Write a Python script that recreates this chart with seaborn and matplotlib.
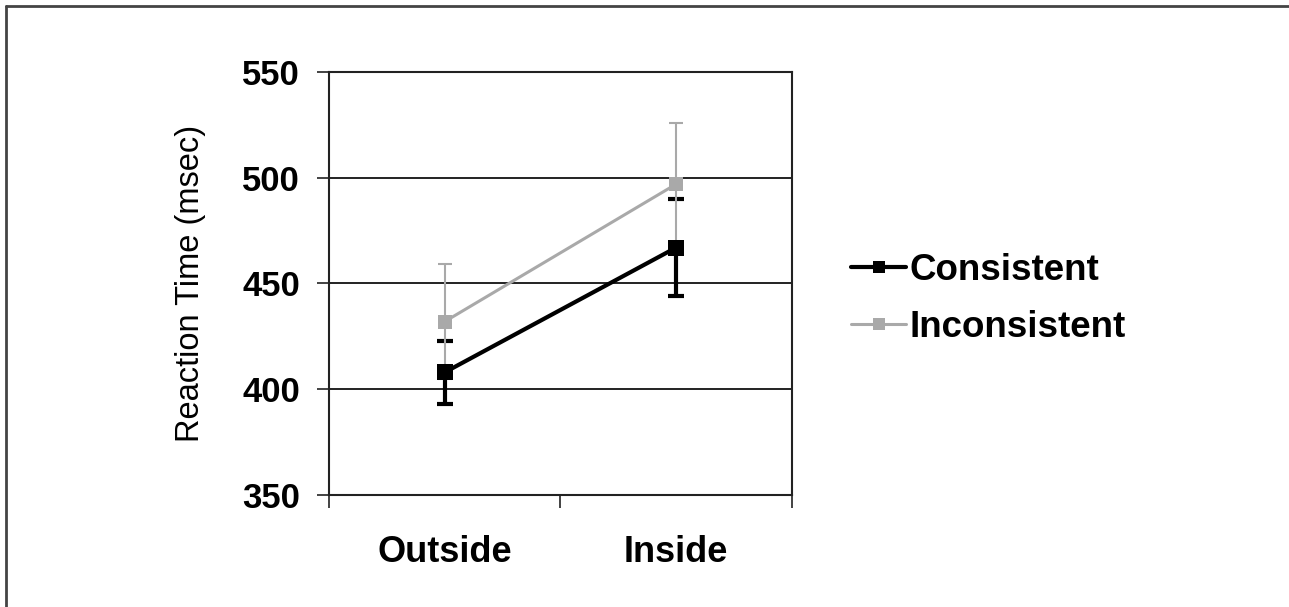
"""
Reaction time by target location and consistency.
"""
import matplotlib
matplotlib.use("Agg")
import matplotlib.pyplot as plt
from matplotlib.lines import Line2D
import seaborn as sns
import pandas as pd

sns.set_theme(style="white")
plt.rcParams["font.family"] = ["Liberation Sans", "DejaVu Sans"]
plt.rcParams["text.color"] = "black"
plt.rcParams["axes.labelcolor"] = "black"
plt.rcParams["xtick.color"] = "black"
plt.rcParams["ytick.color"] = "black"

locations = ["Outside", "Inside"]
conditions = ["Consistent", "Inconsistent"]
consistent_rt = [408, 467]
inconsistent_rt = [432, 497]
consistent_err = [15, 23]
inconsistent_err = [27, 29]
yticks = [350, 400, 450, 500, 550]

COLORS = {"Consistent": "#000000", "Inconsistent": "#A9A9A9"}
STYLE = {
    "Consistent": dict(lw=3.0, ms=11.5, elw=3.0, cap=6, capthick=3.0, z=4),
    "Inconsistent": dict(lw=2.2, ms=9.5, elw=1.5, cap=5, capthick=1.5, z=3),
}

df = pd.DataFrame({
    "location": locations * 2,
    "condition": [conditions[0]] * 2 + [conditions[1]] * 2,
    "rt": consistent_rt + inconsistent_rt,
    "err": consistent_err + inconsistent_err,
})

fig = plt.figure(figsize=(12.89, 6.07), dpi=100)
ax = fig.add_axes([0.2552, 0.1845, 0.3592, 0.6969])

# consistent: thick lower bar, upper bar shows only its cap (hidden under
# the grey bar in the original)
sub = df[df["condition"] == "Consistent"]
st = STYLE["Consistent"]
xpos = [locations.index(l) for l in sub["location"]]
none = [0] * len(sub)
ax.errorbar(xpos, sub["rt"], yerr=[sub["err"], none], fmt="none",
            ecolor=COLORS["Consistent"], elinewidth=st["elw"],
            capsize=st["cap"], capthick=st["capthick"], zorder=2)
ax.errorbar(xpos, sub["rt"], yerr=[none, sub["err"]], fmt="none",
            ecolor=COLORS["Consistent"], elinewidth=0,
            capsize=st["cap"], capthick=st["capthick"], zorder=2)

sub = df[df["condition"] == "Inconsistent"]
st = STYLE["Inconsistent"]
xpos = [locations.index(l) for l in sub["location"]]
ax.errorbar(xpos, sub["rt"], yerr=sub["err"], fmt="none",
            ecolor=COLORS["Inconsistent"], elinewidth=st["elw"],
            capsize=st["cap"], capthick=st["capthick"], zorder=3)

for cond in ["Inconsistent", "Consistent"]:
    sub = df[df["condition"] == cond]
    st = STYLE[cond]
    n_before = len(ax.lines)
    sns.pointplot(data=sub, x="location", y="rt", order=locations,
                  color=COLORS[cond], markers="s", errorbar=None,
                  linewidth=st["lw"], markersize=st["ms"], ax=ax)
    for ln in ax.lines[n_before:]:
        ln.set_zorder(st["z"] + 2)
        ln.set_markeredgewidth(0)

ax.set_xlim(-0.5, 1.5)
ax.set_ylim(350, 550)
ax.set_yticks(yticks)
ax.set_xticks([0, 1])
ax.set_xticklabels(locations)
ax.set_xticks([-0.5, 0.5, 1.5], minor=True)
ax.set_xlabel("")
ax.set_ylabel("Reaction Time (msec)", fontsize=23.5)
ax.yaxis.set_label_coords(-0.266, 0.5)

ax.yaxis.grid(True, color="#111111", linewidth=1.3)
ax.set_axisbelow(True)
for sp in ax.spines.values():
    sp.set_visible(True)
    sp.set_color("#222222")
    sp.set_linewidth(1.5)

ax.tick_params(axis="y", which="major", left=True, direction="out",
               length=9, width=1.2, color="#222222", pad=12, labelsize=25)
ax.tick_params(axis="x", which="major", bottom=True, length=0, pad=29,
               labelsize=26)
ax.tick_params(axis="x", which="minor", bottom=True, direction="out",
               length=9, width=1.2, color="#222222")
for lab in ax.get_xticklabels() + ax.get_yticklabels():
    lab.set_fontweight("bold")

handles = [
    Line2D([], [], color=COLORS[c], lw=STYLE[c]["lw"], marker="s",
           markersize=8, markeredgewidth=0)
    for c in conditions
]
fig.legend(handles, conditions, loc="upper left",
           bbox_to_anchor=(0.6604, 0.584), frameon=False,
           prop={"size": 26.5, "weight": "bold"}, handlelength=1.5,
           handletextpad=0.08, labelspacing=0.6, borderpad=0,
           borderaxespad=0)

# outer frame: only top and left edges show in the reference
fig.add_artist(Line2D([0.0047, 0.0047], [0, 0.990], transform=fig.transFigure,
                      color="#444444", lw=2))
fig.add_artist(Line2D([0.0047, 1], [0.990, 0.990], transform=fig.transFigure,
                      color="#444444", lw=2))

fig.savefig("out.png", dpi=100, facecolor="white")
plt.close(fig)
